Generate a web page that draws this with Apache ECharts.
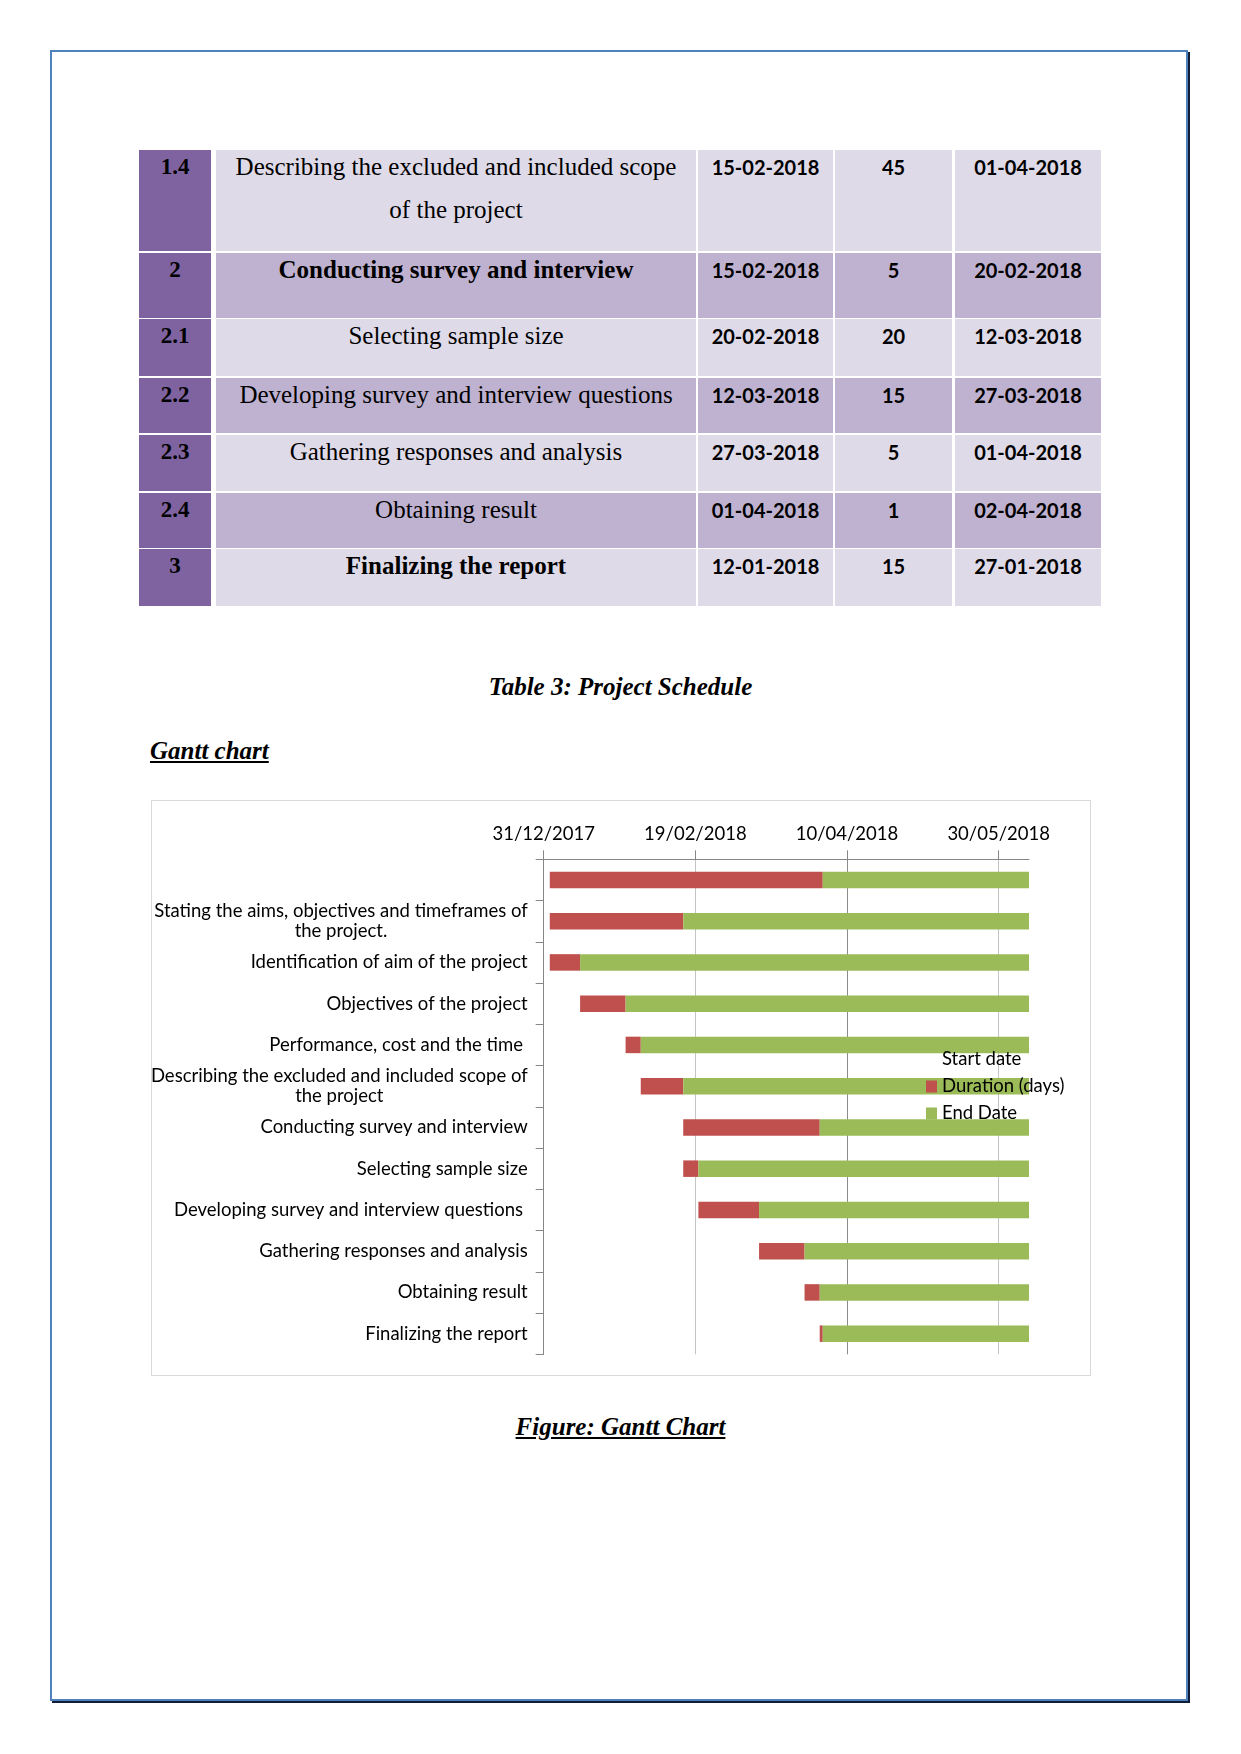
<!DOCTYPE html>
<html><head><meta charset="utf-8">
<script src="https://cdn.jsdelivr.net/npm/echarts@6/dist/echarts.min.js"></script>
<style>
html,body{margin:0;padding:0;background:#fff;}
body{width:1241px;height:1754px;position:relative;overflow:hidden;}
.frame{position:absolute;left:50px;top:50px;width:1138px;height:1651px;box-sizing:border-box;border:2px solid #4F81BD;box-shadow:2px 2px 0 #0F1E38;}
.cell{position:absolute;box-sizing:border-box;color:#000;overflow:visible;}
.txt{position:absolute;left:0;right:0;text-align:center;white-space:nowrap;}
.id{font-family:"Liberation Serif","Times New Roman",serif;font-weight:bold;font-size:23px;line-height:30px;top:2px;}
.task{font-family:"Liberation Serif","Times New Roman",serif;font-size:25px;line-height:43px;top:-5px;}
.bold{font-weight:bold;}
.num{font-family:Lato,"Liberation Sans",sans-serif;font-weight:700;font-size:20px;line-height:30px;top:2px;}
.cap{position:absolute;font-family:"Liberation Serif","Times New Roman",serif;font-size:25px;font-weight:bold;font-style:italic;line-height:30px;white-space:nowrap;color:#000;}
#box{position:absolute;left:151px;top:800px;width:940px;height:576px;box-sizing:border-box;border:1px solid #D9D9D9;background:#fff;}
#chart{position:absolute;left:130px;top:790px;width:980px;height:600px;}
</style></head><body>
<div class="frame"></div>
<div id="table"></div>
<div class="cap" style="left:0;width:1241px;text-align:center;top:672px;">Table 3: Project Schedule</div>
<div class="cap" style="left:150px;top:736px;text-decoration:underline;">Gantt chart</div>
<div id="box"></div>
<div id="chart"></div>
<div class="cap" style="left:0;width:1241px;text-align:center;top:1412px;"><span style="text-decoration:underline;">Figure: Gantt Chart</span></div>
<script>
// ---- table content ----
const tableIds = ['1.4', '2', '2.1', '2.2', '2.3', '2.4', '3'];
const tableTasks = ['Describing the excluded and included scope\nof the project', 'Conducting survey and interview', 'Selecting sample size', 'Developing survey and interview questions', 'Gathering responses and analysis', 'Obtaining result', 'Finalizing the report'];
const tableBold = [false, true, false, false, false, false, true];
const tableStarts = ['15-02-2018', '15-02-2018', '20-02-2018', '12-03-2018', '27-03-2018', '01-04-2018', '12-01-2018'];
const tableDurations = ['45', '5', '20', '15', '5', '1', '15'];
const tableEnds = ['01-04-2018', '20-02-2018', '12-03-2018', '27-03-2018', '01-04-2018', '02-04-2018', '27-01-2018'];

// ---- chart data ----
const categories = ['', 'Stating the aims, objectives and timeframes of\nthe project.', 'Identification of aim of the project', 'Objectives of the project', 'Performance, cost and the time ', 'Describing the excluded and included scope of\nthe project', 'Conducting survey and interview', 'Selecting sample size', 'Developing survey and interview questions ', 'Gathering responses and analysis', 'Obtaining result', 'Finalizing the report'];
const startDates = ['02/01/2018', '02/01/2018', '02/01/2018', '12/01/2018', '27/01/2018', '01/02/2018', '15/02/2018', '15/02/2018', '20/02/2018', '12/03/2018', '27/03/2018', '01/04/2018'];
const durations = [90, 44, 10, 15, 5, 14, 45, 5, 20, 15, 5, 1];
const endDates = ['02/04/2018', '15/02/2018', '12/01/2018', '27/01/2018', '01/02/2018', '15/02/2018', '01/04/2018', '20/02/2018', '12/03/2018', '27/03/2018', '01/04/2018', '02/04/2018'];
const tickDates = ['31/12/2017', '19/02/2018', '10/04/2018', '30/05/2018'];
const axisMaxDate = '09/06/2018';
const seriesNames = ['Start date', 'Duration (days)', 'End Date'];

// build table
(function(){
  const rowTops = [150, 253, 319, 378, 435, 493, 549];
  const rowHeights = [101, 65, 57, 55, 56, 55, 57];
  const colLeft = [139, 216, 698, 835, 955];
  const colRight = [211, 696, 833, 952, 1101];
  const light = '#DFDAE8', dark = '#BFB2D1', purple = '#7F63A1';
  const t = document.getElementById('table');
  for (let r = 0; r < tableIds.length; r++) {
    const bg = r % 2 === 0 ? light : dark;
    const vals = [tableIds[r], tableTasks[r], tableStarts[r], tableDurations[r], tableEnds[r]];
    for (let c = 0; c < 5; c++) {
      const d = document.createElement('div');
      d.className = 'cell';
      d.style.left = colLeft[c] + 'px';
      d.style.top = rowTops[r] + 'px';
      d.style.width = (colRight[c] - colLeft[c]) + 'px';
      d.style.height = rowHeights[r] + 'px';
      d.style.background = c === 0 ? purple : bg;
      const s = document.createElement('div');
      s.className = 'txt ' + (c === 0 ? 'id' : c === 1 ? 'task' + (tableBold[r] ? ' bold' : '') : 'num');
      s.innerHTML = vals[c].split('\n').join('<br>');
      d.appendChild(s);
      t.appendChild(d);
    }
  }
})();

function serial(d) {
  const p = d.split('/').map(Number);
  return Math.round((Date.UTC(p[2], p[1] - 1, p[0]) - Date.UTC(1899, 11, 30)) / 86400000);
}
function pad(n) { return (n < 10 ? '0' : '') + n; }
function fmt(v) {
  const t = new Date(Date.UTC(1899, 11, 30) + v * 86400000);
  return pad(t.getUTCDate()) + '/' + pad(t.getUTCMonth() + 1) + '/' + t.getUTCFullYear();
}

const FONT = 'Lato';
const FS = 18.5;
const chart = echarts.init(document.getElementById('chart'), null, {renderer: 'canvas'});
const ticks = tickDates.map(serial);
chart.setOption({
  animation: false,
  backgroundColor: 'transparent',
  grid: {left: 413.7, right: 81, top: 69.3, bottom: 35.7, outerBoundsMode: 'none', containLabel: false},
  legend: {
    data: seriesNames, orient: 'vertical', left: 791, top: 255, icon: 'rect',
    itemWidth: 11, itemHeight: 12, itemGap: 8, selectedMode: false,
    textStyle: {fontFamily: FONT, fontSize: FS, color: '#000', padding: [0, 0, 0, 0]}
  },
  xAxis: {
    type: 'value', position: 'top', min: ticks[0], max: serial(axisMaxDate), interval: 50,
    axisLine: {show: true, lineStyle: {color: '#868686', width: 1}},
    axisTick: {show: true, length: 9, lineStyle: {color: '#868686'}, customValues: ticks},
    axisLabel: {formatter: fmt, fontFamily: FONT, fontSize: FS, color: '#000', margin: 16, customValues: ticks},
    splitLine: {show: true, showMinLine: true, showMaxLine: true, lineStyle: {color: ['#868686', '#C4C4C4', '#8C8C8C', '#C4C4C4'], width: 1}}
  },
  yAxis: {
    type: 'category', data: categories, inverse: true,
    axisLine: {show: true, lineStyle: {color: '#868686'}},
    axisTick: {show: true, length: 8, lineStyle: {color: '#868686'}},
    axisLabel: {
      fontFamily: FONT, fontSize: FS, color: '#000', margin: 16, lineHeight: 20,
      formatter: function (v) { return v ? '{c|' + v + '}' : ''; },
      rich: {c: {align: 'center', fontFamily: FONT, fontSize: FS, color: '#000', lineHeight: 20}}
    }
  },
  series: [
    {name: seriesNames[0], type: 'bar', stack: 'gantt', barWidth: '40%', data: startDates.map(serial), itemStyle: {color: 'rgba(0,0,0,0)'}, silent: true},
    {name: seriesNames[1], type: 'bar', stack: 'gantt', barWidth: '40%', data: durations, itemStyle: {color: '#C0504D'}},
    {name: seriesNames[2], type: 'bar', stack: 'gantt', barWidth: '40%', data: endDates.map(serial), itemStyle: {color: '#9BBB59'}}
  ]
});
</script>
</body></html>
